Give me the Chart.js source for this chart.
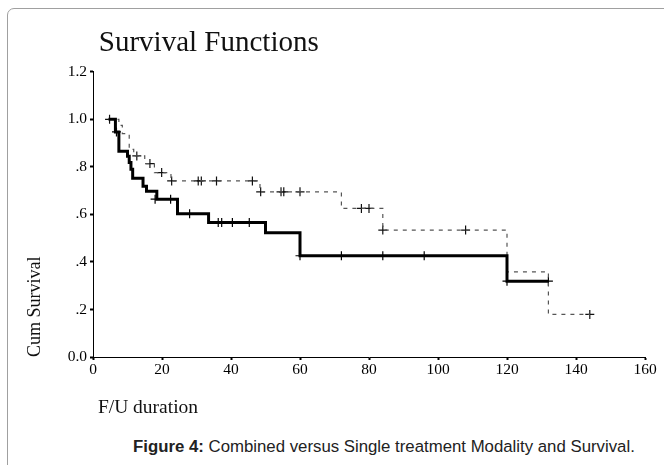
<!DOCTYPE html>
<html>
<head>
<meta charset="utf-8">
<script src="https://cdn.jsdelivr.net/npm/chart.js@4.4.1/dist/chart.umd.min.js"></script>
<style>
  html, body { margin: 0; padding: 0; background: #fff; }
  body { width: 664px; height: 465px; position: relative; overflow: hidden; }
  .frame { position: absolute; left: 7px; top: 8px; width: 700px; height: 500px; border: 1px solid #a0a0a0; border-radius: 7px; }
  #plot { position: absolute; left: 0; top: 0; }
  .caption { position: absolute; left: 133px; top: 437px; font: 16.8px "Liberation Sans", Arial, sans-serif; color: #222; white-space: nowrap; }
</style>
</head>
<body>
<div class="frame"></div>
<canvas id="plot" width="664" height="425"></canvas>
<div class="caption"><b>Figure 4:</b> Combined versus Single treatment Modality and Survival.</div>
<script>
// Kaplan-Meier steps (time, cumulative survival after the drop)
const solidTimes = [4.5, 6.5, 7.5, 10, 10.5, 11, 11.5, 14.5, 15.5, 18.5, 24.5, 33.5, 50, 60, 120, 132];
const solidSurvival = [1.0, 0.947, 0.866, 0.845, 0.818, 0.79, 0.752, 0.718, 0.697, 0.664, 0.603, 0.566, 0.523, 0.426, 0.319, 0.319];
const dashedTimes = [4.5, 7.5, 8.5, 10.5, 11.8, 15, 17.8, 22.6, 48.4, 72, 84, 120, 132, 144];
const dashedSurvival = [1.0, 0.975, 0.94, 0.874, 0.846, 0.814, 0.776, 0.741, 0.695, 0.625, 0.534, 0.358, 0.179, 0.179];

// censored cases
const solidCensorTimes = [6.8, 18, 22.5, 28, 36.3, 37.3, 40.4, 45.3, 60, 72, 84, 96, 120, 132];
const solidCensorSurvival = [0.947, 0.664, 0.664, 0.603, 0.566, 0.566, 0.566, 0.566, 0.426, 0.426, 0.426, 0.426, 0.319, 0.319];
const dashedCensorTimes = [4.8, 12.7, 16.5, 19.9, 22.8, 30.5, 31.4, 35.8, 46.2, 48.6, 54.5, 55.3, 60, 77.8, 80, 84, 108, 144];
const dashedCensorSurvival = [1.0, 0.846, 0.814, 0.776, 0.741, 0.741, 0.741, 0.741, 0.741, 0.695, 0.695, 0.695, 0.695, 0.625, 0.625, 0.534, 0.534, 0.179];

const yTickLabels = ['0.0', '.2', '.4', '.6', '.8', '1.0', '1.2'];

const serif = '"Liberation Serif", "Times New Roman", serif';

function toPoints(xs, ys) {
  return xs.map((x, i) => ({ x, y: ys[i] }));
}

function censorSet(xs, ys, color) {
  return {
    data: toPoints(xs, ys),
    showLine: false,
    pointStyle: 'cross',
    pointRadius: 4.5,
    pointBorderWidth: 1.2,
    pointBorderColor: color,
    borderColor: color,
  };
}

new Chart(document.getElementById('plot'), {
  type: 'line',
  data: {
    datasets: [
      {
        data: toPoints(solidTimes, solidSurvival),
        stepped: 'before',
        borderColor: '#000',
        borderWidth: 3,
        pointRadius: 0,
      },
      {
        data: toPoints(dashedTimes, dashedSurvival),
        stepped: 'before',
        borderColor: '#555',
        borderWidth: 1.2,
        borderDash: [4, 5],
        pointRadius: 0,
      },
      censorSet(solidCensorTimes, solidCensorSurvival, '#000'),
      censorSet(dashedCensorTimes, dashedCensorSurvival, '#111'),
    ],
  },
  options: {
    responsive: false,
    animation: false,
    layout: { padding: { left: 0, right: 19, top: 0, bottom: 0 } },
    plugins: {
      legend: { display: false },
      tooltip: { enabled: false },
      title: {
        display: true,
        text: '\u2009Survival Functions',
        align: 'start',
        fullSize: false,
        color: '#111',
        font: { family: serif, size: 29, weight: 'normal' },
        padding: { top: 26, bottom: 11 },
      },
    },
    scales: {
      x: {
        type: 'linear',
        min: 0,
        max: 160,
        ticks: { stepSize: 20, color: '#000', font: { family: serif, size: 15.5 }, padding: 1, maxRotation: 0 },
        grid: { drawOnChartArea: false, drawTicks: true, tickLength: 3, tickWidth: 2, color: '#000' },
        border: { color: '#000', width: 1 },
        title: {
          display: true,
          text: ' F/U duration',
          align: 'start',
          color: '#111',
          font: { family: serif, size: 19.5 },
          padding: { top: 0, bottom: 5 },
        },
        afterFit(scale) { scale.height = 68; },
      },
      y: {
        min: 0,
        max: 1.2,
        ticks: {
          stepSize: 0.2,
          color: '#000',
          font: { family: serif, size: 15.5 },
          padding: 3,
          callback: (v, i) => yTickLabels[i],
        },
        grid: { drawOnChartArea: false, drawTicks: true, tickLength: 3, tickWidth: 2, color: '#000' },
        border: { color: '#000', width: 1 },
        title: {
          display: true,
          text: 'Cum Survival',
          align: 'start',
          color: '#111',
          font: { family: serif, size: 18 },
          padding: { top: 24, bottom: 0 },
        },
        afterFit(scale) { scale.width = 93; },
      },
    },
  },
});
</script>
</body>
</html>
